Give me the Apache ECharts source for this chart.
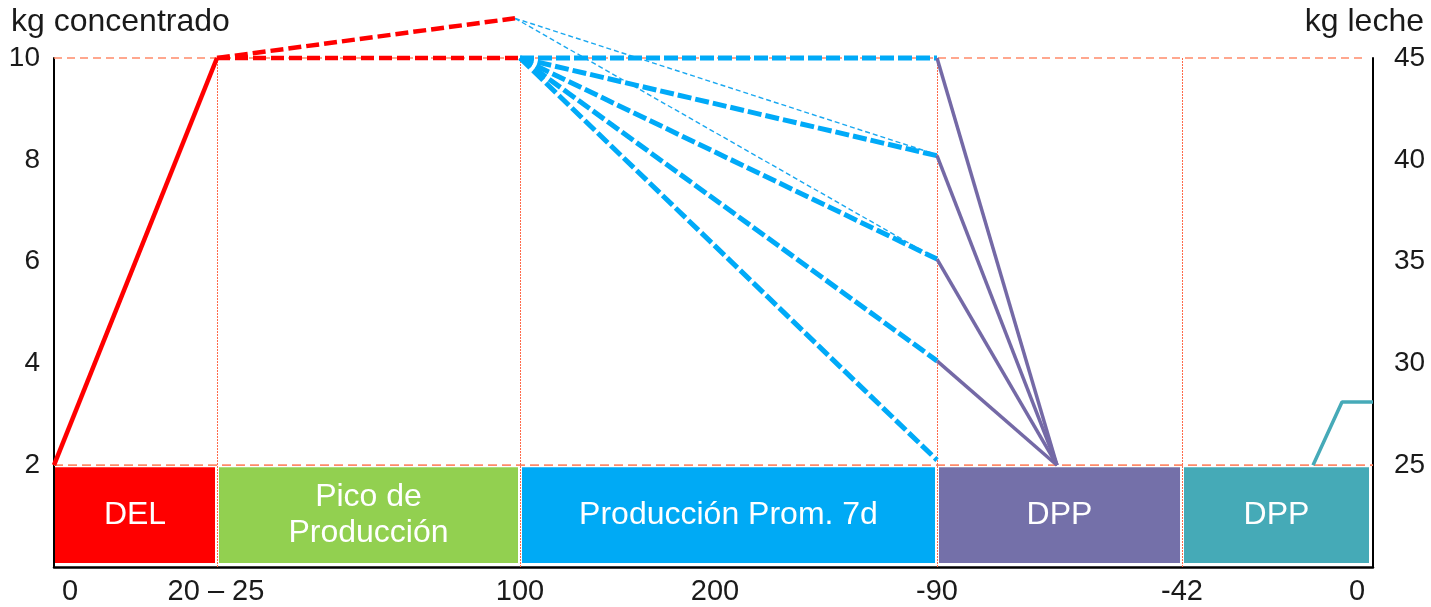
<!DOCTYPE html>
<html><head><meta charset="utf-8">
<script src="https://cdn.jsdelivr.net/npm/echarts@6/dist/echarts.min.js"></script>
<style>html,body{margin:0;padding:0;background:#fff}#c{width:1431px;height:607px}</style>
</head><body><div id="c"></div>
<script>
// ---- data ----
const stageBounds = [0, 163, 466, 883, 1128, 1319];
const stageNames = ['DEL', 'Pico de\nProducción', 'Producción Prom. 7d', 'DPP', 'DPP'];
const tickPositions = [16, 162, 466, 661, 883, 1128, 1303];
const tickLabels = ['0', '20 – 25', '100', '200', '-90', '-42', '0'];
const guideTop = [[0, 10], [1309, 10]];
const guideBottom = [[0, 2], [1319, 2]];
const redRise = [[0, 2], [163, 10]];
const redPlateau = [[163, 10], [466, 10]];
const redPeak = [[163, 10], [461, 10.78]];
const blueStart = [466, 10];
const blueTargets = [10, 8.08, 6.05, 4.05, 2.1];
const thinStart = [461, 10.78];
const thinTargets = [8.1, 6.05];
const dropX = 883;
const purpleStarts = [10, 8.08, 6.05, 4.05];
const purpleEnd = [1003, 2];
const tealLine = [[1259, 2], [1288, 3.24], [1319, 3.24]];

// ---- styles ----
const FONT = 'Liberation Sans, Arial, sans-serif';
const stageColors = ['#FF0000', '#92D050', '#00AAF5', '#7470A9', '#45AAB7'];
const salmon = '#FF8A6A';

const chart = echarts.init(document.getElementById('c'), null, {renderer: 'canvas'});

const boxData = stageNames.map((n, i) => [stageBounds[i], stageBounds[i + 1], n, i]);

function line(data, color, width, type, extra) {
  return Object.assign({
    type: 'line', data: data, symbol: 'none', silent: true, clip: false,
    lineStyle: {color: color, width: width, type: type, cap: 'butt'},
    z: 5
  }, extra || {});
}

const series = [];
series.push({
  type: 'custom',
  data: boxData,
  silent: true,
  z: 1,
  encode: {x: [0, 1]},
  renderItem: function (params, api) {
    const p0 = api.coord([api.value(0), 2]);
    const p1 = api.coord([api.value(1), 0]);
    const idx = api.value(3);
    const x0 = p0[0] + (idx === 0 ? 1 : 2);
    const x1 = p1[0] - (idx === 4 ? 4 : 2);
    const y0 = p0[1] + 2;
    const y1 = p1[1] - 4;
    return {
      type: 'rect',
      shape: {x: x0, y: y0, width: x1 - x0, height: y1 - y0},
      style: {fill: stageColors[idx]},
      textContent: {
        style: {text: boxData[params.dataIndex][2], fill: '#fff', font: '32px ' + FONT, align: 'center', lineHeight: 36}
      },
      textConfig: {position: 'inside'}
    };
  }
});
series.push(line(guideTop, salmon, 1.5, [8, 5], {z: 2}));
series.push(line(guideBottom, salmon, 1.8, [9, 5], {
  z: 2,
  markLine: {
    silent: true, symbol: 'none', label: {show: false},
    lineStyle: {color: '#FF6A4A', width: 1, type: [2, 1]},
    data: stageBounds.slice(1, 5).map(v => ({xAxis: v}))
  }
}));
series.push(line(redRise, '#FF0000', 4.5, 'solid', {z: 6}));
series.push(line(redPlateau, '#FF0000', 4.5, [13, 5], {z: 6}));
series.push(line(redPeak, '#FF0000', 4.5, [13, 5], {z: 6}));
thinTargets.forEach(v => series.push(line([thinStart, [dropX, v]], '#1AA8F0', 1.4, [5, 3], {z: 4})));
blueTargets.forEach(v => series.push(line([blueStart, [dropX, v]], '#00AAF8', 5, [14, 4], {z: 5})));
purpleStarts.forEach(v => series.push(line([[dropX, v], purpleEnd], '#7469A6', 3.5, 'solid', {z: 7})));
series.push(line(tealLine, '#46AAB8', 3.5, 'solid', {z: 7}));

chart.setOption({
  animation: false,
  backgroundColor: '#fff',
  textStyle: {fontFamily: FONT},
  title: [
    {text: 'kg concentrado', left: 11, top: 6, padding: 0, textStyle: {fontFamily: FONT, fontSize: 32, fontWeight: 'normal', color: '#1a1a1a'}},
    {text: 'kg leche', right: 7, top: 6, padding: 0, textStyle: {fontFamily: FONT, fontSize: 32, fontWeight: 'normal', color: '#1a1a1a'}}
  ],
  grid: {left: 54, right: 58, top: 58, bottom: 40, containLabel: false},
  xAxis: {
    type: 'value', min: stageBounds[0], max: stageBounds[stageBounds.length - 1],
    axisLine: {show: true, onZero: false, lineStyle: {color: '#000', width: 2.5}},
    axisTick: {show: false},
    splitLine: {show: false},
    axisLabel: {
      customValues: tickPositions,
      formatter: function (v) { const i = tickPositions.indexOf(v); return i >= 0 ? tickLabels[i] : ''; },
      fontSize: 29, color: '#1a1a1a', margin: 10, fontFamily: FONT
    }
  },
  yAxis: [
    {
      type: 'value', min: 0, max: 10, interval: 2, position: 'left',
      axisLine: {show: true, lineStyle: {color: '#000', width: 2}},
      axisTick: {show: false}, splitLine: {show: false},
      axisLabel: {showMinLabel: false, fontSize: 28, color: '#1a1a1a', margin: 14, fontFamily: FONT,
        formatter: v => v === 0 ? '' : String(v)}
    },
    {
      type: 'value', min: 20, max: 45, interval: 5, position: 'right',
      axisLine: {show: true, lineStyle: {color: '#000', width: 2}},
      axisTick: {show: false}, splitLine: {show: false},
      axisLabel: {showMinLabel: false, fontSize: 28, color: '#1a1a1a', margin: 21, fontFamily: FONT,
        formatter: v => v === 20 ? '' : String(v)}
    }
  ],
  series: series
});
</script>
</body></html>
